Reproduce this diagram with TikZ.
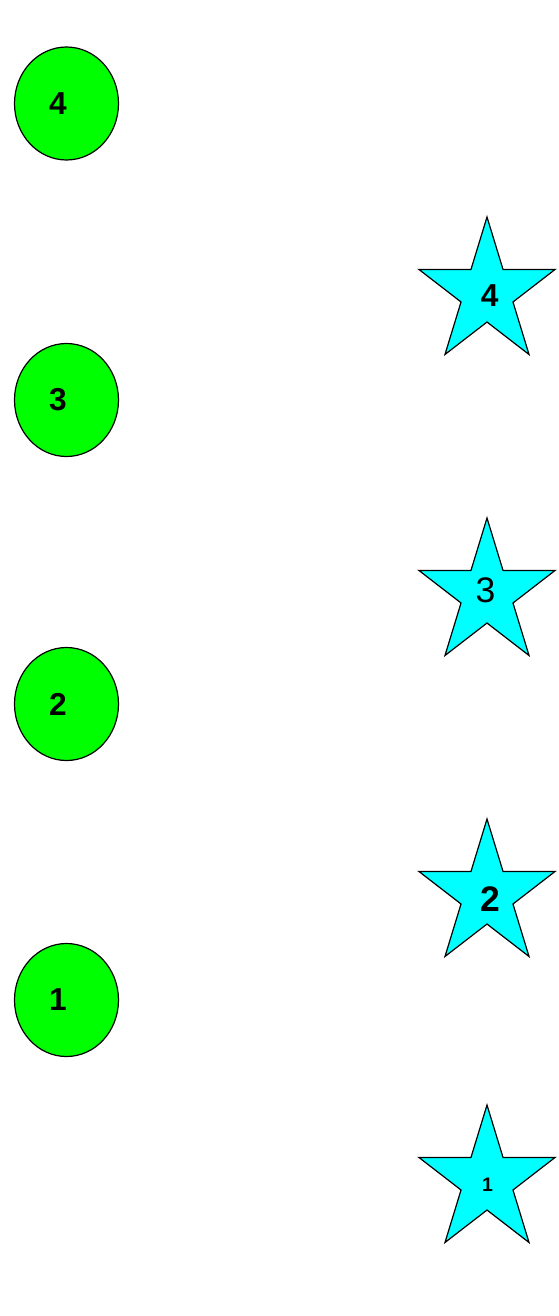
\documentclass[tikz,border=0pt]{standalone}
\usepackage{fontspec}
\setmainfont{Liberation Sans}
\usetikzlibrary{shapes.geometric}
\definecolor{ballGreen}{HTML}{00FF00}
\definecolor{starCyan}{HTML}{00FFFF}
\tikzset{
 ball/.style={draw=black, fill=ballGreen, line width=1.2pt, ellipse, inner sep=0pt, minimum width=104pt, minimum height=113pt},
 starbox/.style={draw=black, fill=starCyan, line width=1.2pt, star, star points=5, star point ratio=2.618, inner sep=0pt, outer sep=0pt, minimum size=143pt, yscale=1.063, transform shape},
 digit/.style={inner sep=0pt, text=black}
}
% #1 y, #2 name, #3 label
\newcommand{\ballnode}[3]{%
 \node[ball] (#2) at (66.5,#1) {};%
 \node[digit, font=\fontsize{31.7}{36}\selectfont\bfseries, xshift=-8.5pt] (#2-txt) at (#2) {#3};%
}
% #1 y, #2 name, #3 font, #4 label, #5 text x, #6 text y
\newcommand{\starnode}[6]{%
 \node[starbox] (#2) at (487,#1) {};%
 \node[digit, font=#3] (#2-txt) at (#5,#6) {#4};%
}

\begin{document}
\begin{tikzpicture}[x=1pt, y=-1pt]
\useasboundingbox (0,0) rectangle (558,1316);
% balls
\ballnode{103.5}{b4}{4}
\ballnode{400}{b3}{3}
\ballnode{704}{b2}{2}
\ballnode{1000}{b1}{1}
% stars
\starnode{293}{s4}{\fontsize{31.7}{36}\selectfont\bfseries}{4}{489.7}{295.3}
\starnode{594}{s3}{\fontsize{35.5}{40}\selectfont}{3}{485.5}{590}
\starnode{895}{s2}{\fontsize{35.5}{40}\selectfont\bfseries}{2}{490.5}{899}
\starnode{1181}{s1}{\fontsize{19.5}{22}\selectfont\bfseries}{1}{487.5}{1185}
\end{tikzpicture}
\end{document}
